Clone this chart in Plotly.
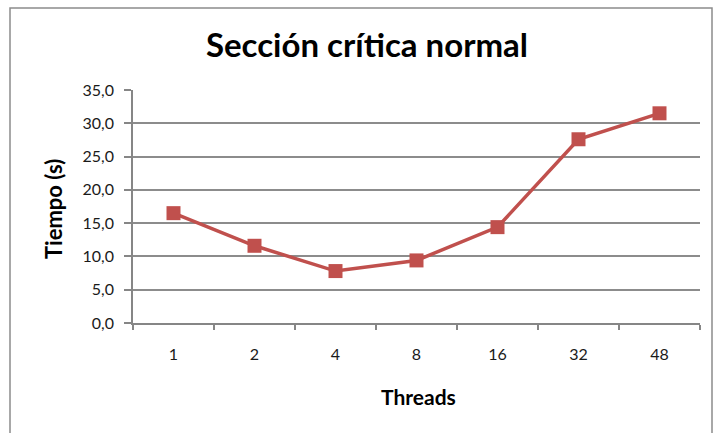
import plotly.graph_objects as go

threads = ["1", "2", "4", "8", "16", "32", "48"]
tiempo = [16.5, 11.6, 7.8, 9.4, 14.4, 27.6, 31.5]
y_ticks = [0, 5, 10, 15, 20, 25, 30, 35]
y_tick_labels = ["0,0", "5,0", "10,0", "15,0", "20,0", "25,0", "30,0", "35,0"]

W, H = 714, 433
L, R, T, B = 133, 14, 90, 110
pw, ph = W - L - R, H - T - B

def px_x(px):
    return (px - L) / pw

def px_y(py):
    return (H - B - py) / ph

font_fam = "Lato, 'Open Sans', sans-serif"
tick_color = "#1A1A1A"

fig = go.Figure()
fig.add_trace(go.Scatter(
    x=threads, y=tiempo, mode="lines+markers",
    line=dict(color="#C0504D", width=3.5),
    marker=dict(symbol="square", size=14, color="#C0504D"),
    cliponaxis=False,
))

fig.update_layout(
    width=W, height=H,
    margin=dict(l=L, r=R, t=T, b=B),
    paper_bgcolor="white", plot_bgcolor="white",
    showlegend=False,
    font=dict(family=font_fam, color="#000000", size=16),
    title=dict(text="<b>Sección crítica normal</b>", x=px_x(367), xref="paper",
               xanchor="center", y=1 - 45 / H, yref="container", yanchor="middle",
               font=dict(size=33, family=font_fam, color="#000000")),
)

fig.update_xaxes(
    type="category", range=[-0.5, 6.5],
    showline=True, linecolor="#868686", linewidth=1.5,
    ticks="outside", tickson="boundaries", ticklen=5, tickcolor="#868686", tickwidth=1.5,
    showgrid=False, ticklabelstandoff=16,
    tickfont=dict(size=16, family=font_fam, color=tick_color),
)
fig.update_yaxes(
    range=[0, 35], tickvals=y_ticks, ticktext=y_tick_labels,
    showline=True, linecolor="#868686", linewidth=1.5,
    ticks="outside", ticklen=7, tickcolor="#868686", tickwidth=1.5,
    showgrid=True, gridcolor="#8C8C8C", gridwidth=1.5,
    zeroline=False, ticklabelstandoff=7,
    tickfont=dict(size=16, family=font_fam, color=tick_color),
)

fig.add_annotation(text="<b>Tiempo (s)</b>", xref="paper", yref="paper",
                   x=px_x(53), y=px_y(209), textangle=-90, showarrow=False,
                   xanchor="center", yanchor="middle",
                   font=dict(size=22, family=font_fam, color="#000000"))
fig.add_annotation(text="<b>Threads</b>", xref="paper", yref="paper",
                   x=px_x(418), y=px_y(396), showarrow=False,
                   xanchor="center", yanchor="middle",
                   font=dict(size=21, family=font_fam, color="#000000"))

fig.add_shape(type="rect", xref="paper", yref="paper",
              x0=px_x(10), x1=px_x(712), y0=px_y(445), y1=px_y(8),
              line=dict(color="#8C8C8C", width=1.5), layer="below")

fig.write_html("out.html", config={"displayModeBar": False},
               post_script="document.body.style.margin='0';")
